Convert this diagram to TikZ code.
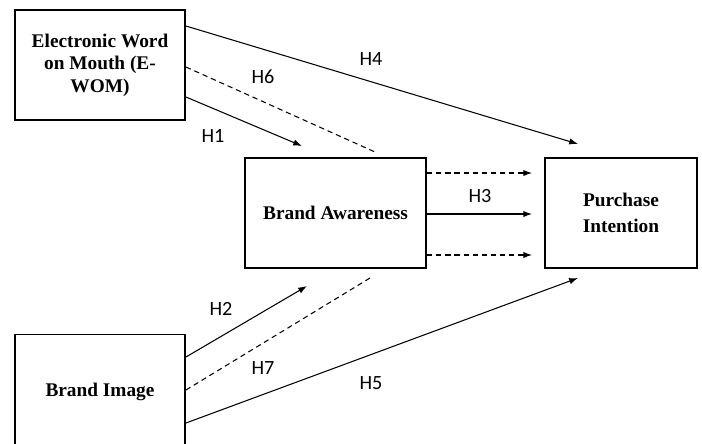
\documentclass[tikz,border=0pt]{standalone}
\usepackage{fontspec}
\setmainfont{Liberation Serif}
\newfontfamily\hypfont{Carlito}
\usetikzlibrary{positioning, arrows.meta}

\begin{document}
\begin{tikzpicture}[
    x=0.02cm, y=-0.02cm,
    construct/.style={draw, line width=1.1pt, align=center, inner sep=2pt,
                      font=\fontsize{11}{12.8}\selectfont\bfseries},
    hyp/.style={font=\hypfont\fontsize{11.5}{13}\selectfont},
    path/.style={-{Latex[length=5pt, width=3.6pt]}, line width=0.6pt},
    mediation/.style={line width=0.6pt, dash pattern=on 3pt off 2.2pt},
    medarrow/.style={mediation, -{Latex[length=5pt, width=3.6pt]}},
]

\clip (0,0) rectangle (702,443);

% ---- Constructs ----
\node[construct, minimum width=3.4cm, minimum height=2.2cm] (ewom) at (100,65)
    {Electronic Word\\on Mouth (E-\\WOM)};
\node[construct, minimum width=3.62cm, minimum height=2.2cm] (aware) at (335.5,213)
    {Brand Awareness};
\node[construct, minimum width=3.04cm, minimum height=2.2cm,
      font=\fontsize{11}{14.7}\selectfont\bfseries] (intent) at (621,213)
    {Purchase\\Intention};
\node[construct, minimum width=3.4cm, minimum height=2.3cm] (image) at (100,392)
    {Brand Image};

% ---- Free arrow ends ----
\coordinate (h1end) at (302,146);
\coordinate (h4end) at (578,144);
\coordinate (h6end) at (375,152);
\coordinate (h2end) at (307,286);
\coordinate (h7end) at (370,278);
\coordinate (h5end) at (578,278);

% E-WOM paths
\draw[path] ([yshift=0.78cm]ewom.east) -- (h4end);
\draw[mediation] ([yshift=-0.04cm]ewom.east) -- (h6end);
\draw[path] ([yshift=-0.64cm]ewom.east) -- (h1end);

% Brand Awareness -> Purchase Intention
\draw[medarrow] ([yshift=0.8cm]aware.east) -- ([yshift=0.8cm, xshift=-0.24cm]intent.west);
\draw[path] ([yshift=-0.02cm]aware.east) -- ([yshift=-0.02cm, xshift=-0.24cm]intent.west);
\draw[medarrow] ([yshift=-0.84cm]aware.east) -- ([yshift=-0.84cm, xshift=-0.24cm]intent.west);

% Brand Image paths
\draw[path] ([yshift=0.7cm]image.east) -- (h2end);
\draw[mediation] ([yshift=0.04cm]image.east) -- (h7end);
\draw[path] ([yshift=-0.62cm]image.east) -- (h5end);

% ---- Hypothesis labels ----
\node[hyp] (lh4) at (371,59) {H4};
\node[hyp] (lh6) at (263,77) {H6};
\node[hyp] (lh1) at (213,136) {H1};
\node[hyp] (lh3) at (480,196) {H3};
\node[hyp] (lh2) at (221,309) {H2};
\node[hyp] (lh7) at (263,368) {H7};
\node[hyp] (lh5) at (371,383) {H5};

\end{tikzpicture}
\end{document}
